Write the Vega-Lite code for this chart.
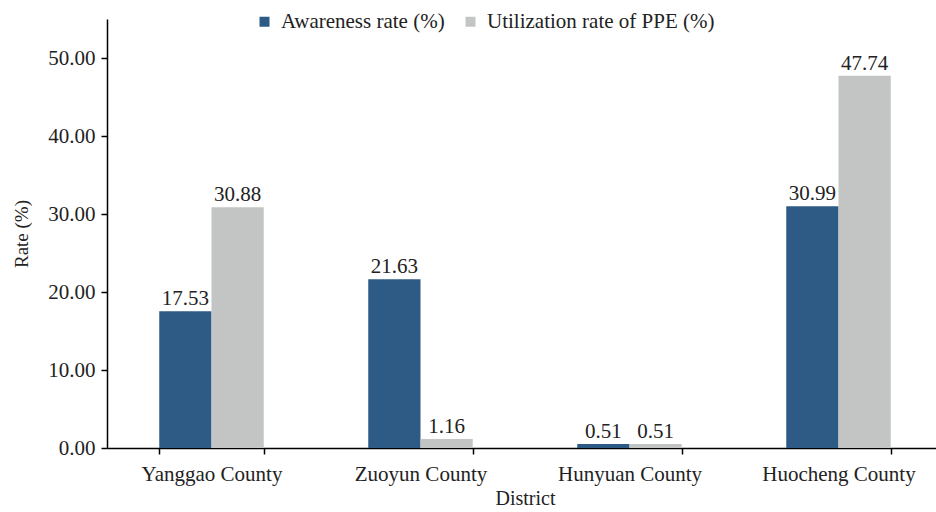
{
  "$schema": "https://vega.github.io/schema/vega-lite/v6.json",
  "width": 836,
  "height": 429,
  "autosize": {"type": "none"},
  "padding": {"left": 107, "top": 19, "right": 0, "bottom": 64},
  "background": "white",
  "config": {
    "font": "'Liberation Serif', 'Times New Roman', Times, serif",
    "view": {"stroke": null},
    "text": {"font": "'Liberation Serif', 'Times New Roman', Times, serif"},
    "axis": {"grid": false, "domainColor": "#000000", "tickColor": "#000000", "labelColor": "#222222", "titleColor": "#222222", "labelFont": "'Liberation Serif', 'Times New Roman', Times, serif", "titleFont": "'Liberation Serif', 'Times New Roman', Times, serif", "titleFontWeight": "normal", "domainWidth": 1.5, "tickWidth": 1.5},
    "legend": {"labelFont": "'Liberation Serif', 'Times New Roman', Times, serif"}
  },
  "data": {
    "values": [
      {"district": "Yanggao County", "series": "Awareness rate (%)", "rate": 17.53},
      {"district": "Yanggao County", "series": "Utilization rate of PPE (%)", "rate": 30.88},
      {"district": "Zuoyun County", "series": "Awareness rate (%)", "rate": 21.63},
      {"district": "Zuoyun County", "series": "Utilization rate of PPE (%)", "rate": 1.16},
      {"district": "Hunyuan County", "series": "Awareness rate (%)", "rate": 0.51},
      {"district": "Hunyuan County", "series": "Utilization rate of PPE (%)", "rate": 0.51},
      {"district": "Huocheng County", "series": "Awareness rate (%)", "rate": 30.99},
      {"district": "Huocheng County", "series": "Utilization rate of PPE (%)", "rate": 47.74}
    ]
  },
  "encoding": {
    "x": {
      "field": "district", "type": "nominal", "sort": null,
      "scale": {"paddingInner": 0.5, "paddingOuter": 0.25},
      "axis": {"title": "District", "labelAngle": 0, "labelFontSize": 21, "titleFontSize": 20, "labelPadding": 9, "titlePadding": 4, "tickBand": "extent", "tickSize": 6, "labelLimit": 300}
    },
    "xOffset": {"field": "series", "type": "nominal", "sort": null},
    "y": {
      "field": "rate", "type": "quantitative",
      "scale": {"domain": [0, 55], "nice": false},
      "axis": {"title": "Rate (%)", "format": ".2f", "values": [0, 10, 20, 30, 40, 50], "labelFontSize": 21, "titleFontSize": 19, "tickSize": 6, "labelPadding": 6, "titlePadding": 16}
    }
  },
  "layer": [
    {
      "mark": {"type": "bar"},
      "encoding": {
        "color": {
          "field": "series", "type": "nominal", "sort": null,
          "scale": {"range": ["#2E5B85", "#C3C4C4"]},
          "legend": {"title": null, "orient": "none", "legendX": 147, "legendY": -8, "direction": "horizontal", "symbolType": "square", "symbolSize": 100, "labelFontSize": 21, "labelColor": "#222222", "columnPadding": 15, "labelOffset": 6, "symbolStrokeWidth": 0, "labelLimit": 400}
        }
      }
    },
    {
      "mark": {"type": "text", "baseline": "bottom", "dy": -2, "fontSize": 21, "color": "#222222"},
      "encoding": {"text": {"field": "rate", "type": "quantitative", "format": ".2f"}}
    }
  ]
}
